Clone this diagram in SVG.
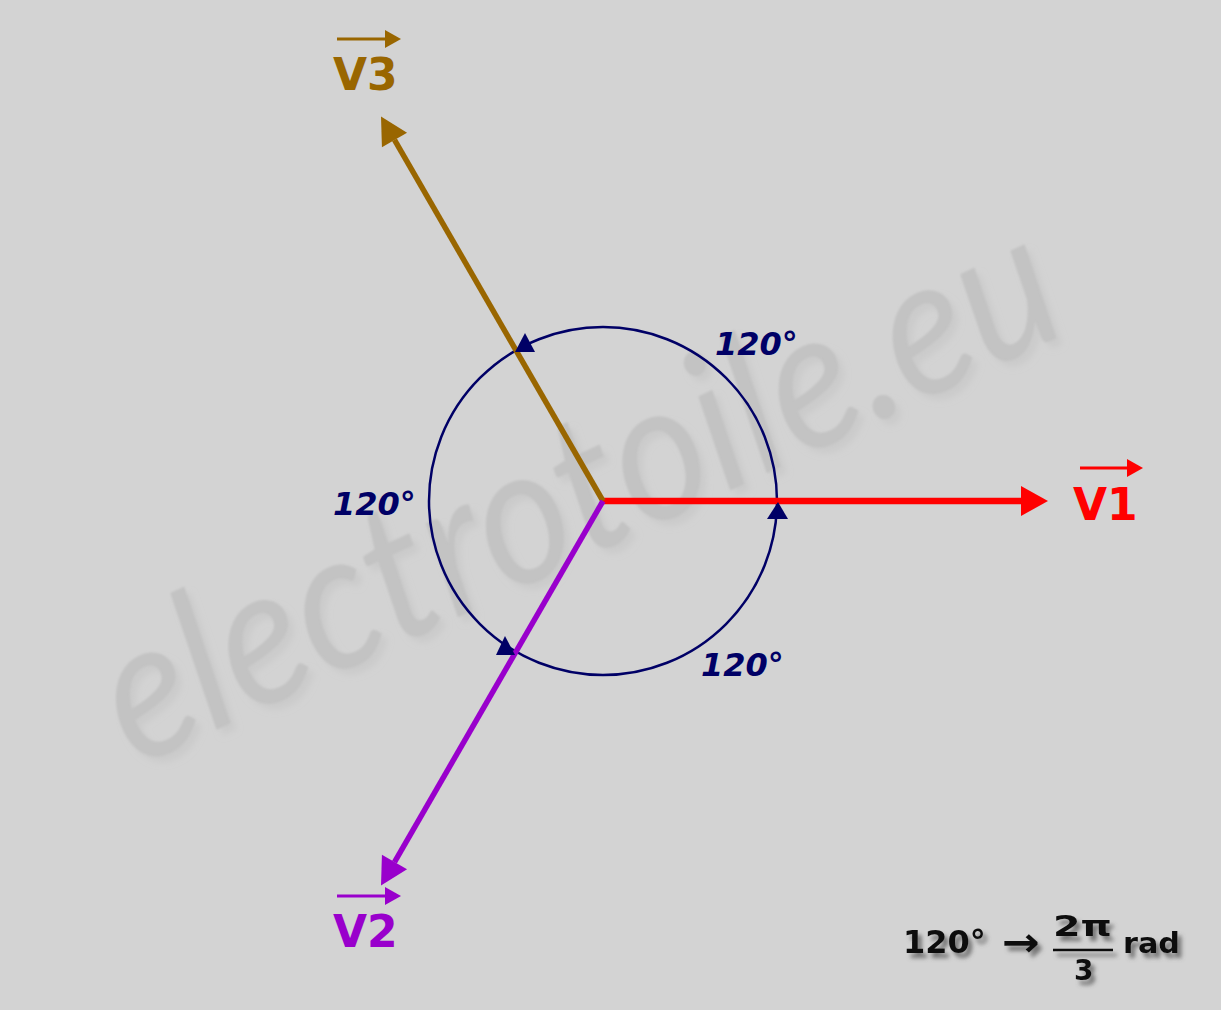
<svg xmlns="http://www.w3.org/2000/svg" width="1221" height="1010" viewBox="0 0 1221 1010">
  <style>
    .deg { font-family: "DejaVu Sans", sans-serif; font-weight: bold; font-style: oblique; font-size: 32px; fill: #000066; }
    .vlab { font-family: "DejaVu Sans", sans-serif; font-weight: bold; font-size: 44px; }
    .form { font-family: "DejaVu Sans", sans-serif; font-weight: bold; fill: #111111; }
    .wm { font-family: "Lato", "Open Sans", sans-serif; font-weight: 400; font-style: italic; font-size: 150px; fill: #c3c3c3; }
  </style>
  <defs>
    <marker id="ahRed" markerUnits="userSpaceOnUse" markerWidth="28" markerHeight="32" refX="0" refY="15" orient="auto" overflow="visible">
      <path d="M0,0 L27,15 L0,30 z" fill="#FF0000"/>
    </marker>
    <marker id="ahBrown" markerUnits="userSpaceOnUse" markerWidth="28" markerHeight="32" refX="0" refY="15" orient="auto" overflow="visible">
      <path d="M0,0.5 L27,15 L0,29.5 z" fill="#996600"/>
    </marker>
    <marker id="ahPurple" markerUnits="userSpaceOnUse" markerWidth="28" markerHeight="32" refX="0" refY="15" orient="auto" overflow="visible">
      <path d="M0,0.5 L27,15 L0,29.5 z" fill="#9900CC"/>
    </marker>
    <filter id="shadow" x="-20%" y="-30%" width="140%" height="170%">
      <feGaussianBlur in="SourceAlpha" stdDeviation="2.2"/>
      <feOffset dx="4" dy="5" result="b"/>
      <feFlood flood-color="#555555" flood-opacity="0.75"/>
      <feComposite in2="b" operator="in" result="s"/>
      <feMerge><feMergeNode in="s"/><feMergeNode in="SourceGraphic"/></feMerge>
    </filter>
    <filter id="wmblur" x="-10%" y="-10%" width="120%" height="120%">
      <feGaussianBlur in="SourceAlpha" stdDeviation="3"/>
      <feOffset dx="6" dy="6" result="b"/>
      <feFlood flood-color="#c9c9c9" flood-opacity="0.8"/>
      <feComposite in2="b" operator="in" result="s"/>
      <feGaussianBlur in="SourceGraphic" stdDeviation="1" result="g"/>
      <feMerge><feMergeNode in="s"/><feMergeNode in="g"/></feMerge>
    </filter>
  </defs>

  <rect x="0" y="0" width="1221" height="1010" fill="#D3D3D3"/>

  <g id="watermark" filter="url(#wmblur)">
    <text class="wm" transform="translate(135,768) rotate(-25) scale(1,1.3)" x="0" y="0" textLength="1035" lengthAdjust="spacingAndGlyphs">electrotoile.eu</text>
  </g>

  <g id="circle">
    <circle cx="603" cy="501" r="174" fill="none" stroke="#000066" stroke-width="2.5"/>
  </g>

  <g id="connectors">
    <line id="v1-line" x1="603" y1="501" x2="1021" y2="501" stroke="#FF0000" stroke-width="6.5" marker-end="url(#ahRed)"/>
    <line id="v3-line" x1="603" y1="501" x2="394.5" y2="139.9" stroke="#996600" stroke-width="5.5" marker-end="url(#ahBrown)"/>
    <line id="v2-line" x1="603" y1="501" x2="394.5" y2="862.1" stroke="#9900CC" stroke-width="5.5" marker-end="url(#ahPurple)"/>
  </g>

  <g id="circle-arrows" fill="#000066">
    <polygon points="778,502 767,519 788,519"/>
    <polygon points="525,333 515,352 535,352"/>
    <polygon points="505,636 496,655 515,655"/>
  </g>

  <g id="angle-labels">
    <text class="deg" x="715" y="355">120°</text>
    <text class="deg" x="333" y="515">120°</text>
    <text class="deg" x="701" y="676">120°</text>
  </g>

  <g id="label-v3" fill="#996600">
    <line x1="337" y1="39" x2="387" y2="39" stroke="#996600" stroke-width="3"/>
    <polygon points="385,30 401,39 385,48"/>
    <text class="vlab" x="333" y="90">V3</text>
  </g>

  <g id="label-v1" fill="#FF0000">
    <line x1="1080" y1="468" x2="1130" y2="468" stroke="#FF0000" stroke-width="3"/>
    <polygon points="1127,459 1143,468 1127,477"/>
    <text class="vlab" x="1073" y="520">V1</text>
  </g>

  <g id="label-v2" fill="#9900CC">
    <line x1="337" y1="896" x2="387" y2="896" stroke="#9900CC" stroke-width="3"/>
    <polygon points="385,887 401,896 385,905"/>
    <text class="vlab" x="333" y="947">V2</text>
  </g>

  <g id="formula" filter="url(#shadow)">
    <text class="form" x="903" y="953" font-size="32">120°</text>
    <text class="form" x="1002" y="956" font-size="40" textLength="38" lengthAdjust="spacingAndGlyphs">→</text>
    <text class="form" x="1053" y="936" font-size="28" textLength="59" lengthAdjust="spacingAndGlyphs">2π</text>
    <line x1="1053" y1="950" x2="1113" y2="950" stroke="#111111" stroke-width="2.5"/>
    <text class="form" x="1074" y="980" font-size="28">3</text>
    <text class="form" x="1123" y="953" font-size="29" textLength="57" lengthAdjust="spacingAndGlyphs">rad</text>
  </g>
</svg>
